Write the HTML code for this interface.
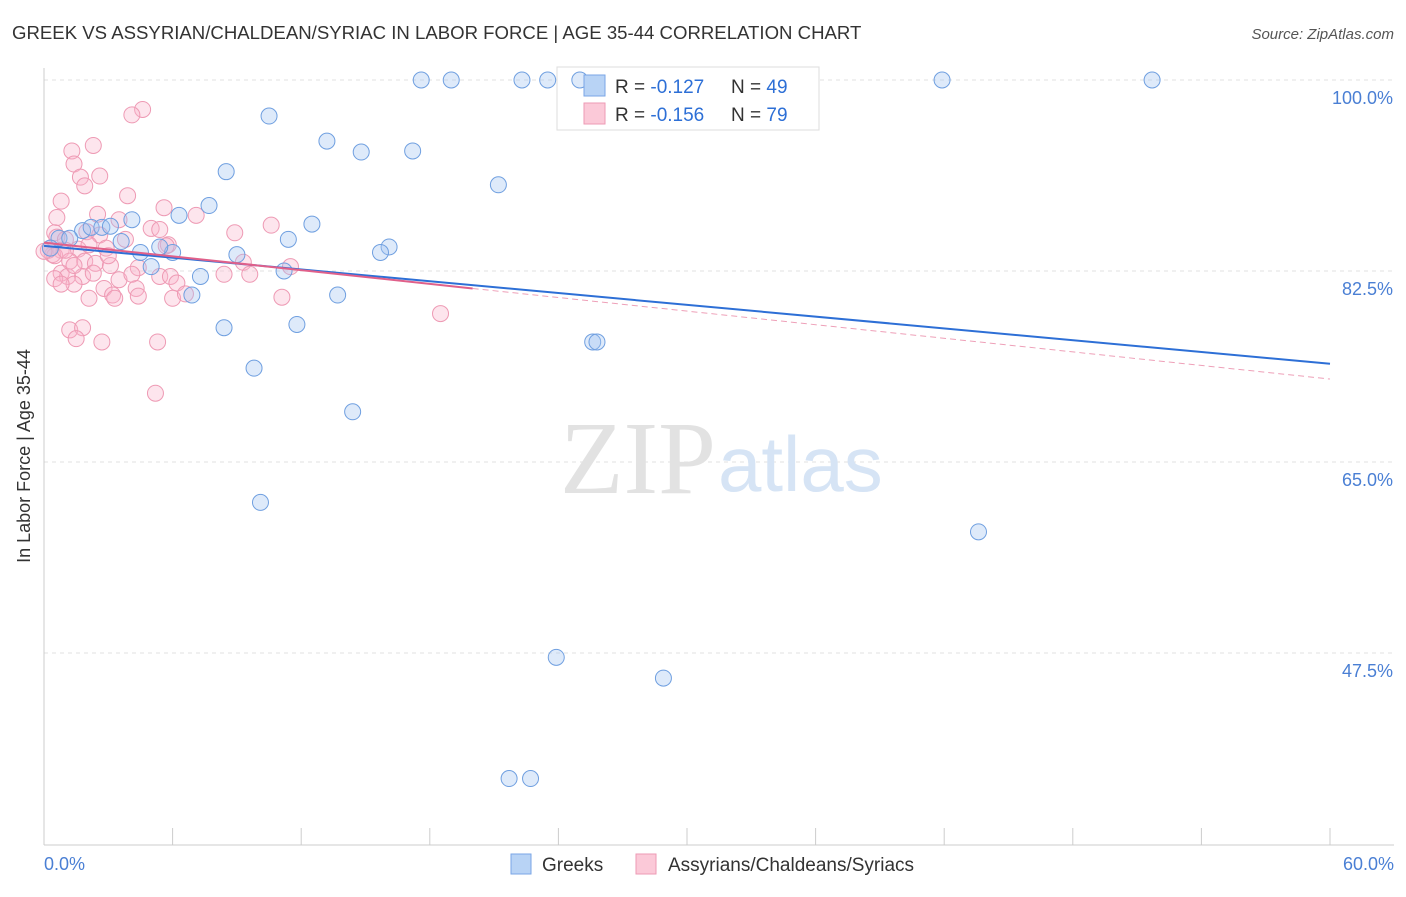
<!DOCTYPE html>
<html><head><meta charset="utf-8"><style>
body{margin:0;background:#fff;font-family:"Liberation Sans",sans-serif;}
svg text{font-family:"Liberation Sans",sans-serif;}
</style></head><body>
<svg id="chart" width="1406" height="892">
<text x="12" y="39" font-size="18.6" fill="#333">GREEK VS ASSYRIAN/CHALDEAN/SYRIAC IN LABOR FORCE | AGE 35-44 CORRELATION CHART</text>
<text x="1394" y="39" font-size="15" fill="#555" font-style="italic" text-anchor="end">Source: ZipAtlas.com</text>
<g id="grid"></g>
<line x1="44" y1="68" x2="44" y2="845" stroke="#ccc"/>
<line x1="44" y1="845" x2="1394" y2="845" stroke="#ccc"/>
<g id="xt"></g>
<text x="716" y="493" font-size="104" fill="#e2e2e2" style="font-family:'Liberation Serif',serif" text-anchor="end">ZIP</text>
<text x="718" y="491" font-size="78" fill="#d6e4f5">atlas</text>
<text x="30" y="456" font-size="18" fill="#333" text-anchor="middle" transform="rotate(-90 30 456)">In Labor Force | Age 35-44</text>
<text x="44" y="870" font-size="18" fill="#4a7fd4">0.0%</text>
<text x="1394" y="870" font-size="18" fill="#4a7fd4" text-anchor="end">60.0%</text>
<g id="pts"></g>
<g id="lines"></g>
<rect x="557" y="67" width="262" height="63" fill="#fff" stroke="#ddd"/>
<g id="pts2"></g>
<rect x="584" y="75" width="21" height="21" fill="#b8d3f5" stroke="#7aa6e6"/>
<rect x="584" y="103" width="21" height="21" fill="#fbc9d8" stroke="#ee9ab4"/>
<text x="615" y="93" font-size="19" fill="#333">R = <tspan fill="#2d6fd6">-0.127</tspan></text>
<text x="731" y="93" font-size="19" fill="#333">N = <tspan fill="#2d6fd6">49</tspan></text>
<text x="615" y="121" font-size="19" fill="#333">R = <tspan fill="#2d6fd6">-0.156</tspan></text>
<text x="731" y="121" font-size="19" fill="#333">N = <tspan fill="#2d6fd6">79</tspan></text>
<rect x="511" y="854" width="20" height="20" fill="#b8d3f5" stroke="#7aa6e6"/>
<text x="542" y="871" font-size="19" fill="#333">Greeks</text>
<rect x="636" y="854" width="20" height="20" fill="#fbc9d8" stroke="#ee9ab4"/>
<text x="668" y="871" font-size="19" fill="#333">Assyrians/Chaldeans/Syriacs</text>
</svg>
<script>
const yTicks=[100,82.5,65,47.5];
const yTickLabels=["100.0%","82.5%","65.0%","47.5%"];
const greekX=[17.6,19.0,22.3,23.5,25.0,41.9,51.7,10.5,13.2,14.8,17.2,8.5,21.2,7.7,6.3,4.1,12.5,1.8,2.2,2.7,3.1,11.4,3.6,16.1,15.7,9.0,6.0,5.4,4.5,5.0,11.2,7.3,6.9,13.7,11.8,8.4,25.6,25.8,9.8,14.4,10.1,43.6,23.9,28.9,21.7,22.7,0.7,0.3,1.2];
const greekY=[100,100,100,100,100,100,100,96.7,94.4,93.4,93.5,91.6,90.4,88.5,87.6,87.2,86.8,86.2,86.5,86.5,86.6,85.4,85.2,84.7,84.2,84.0,84.2,84.7,84.2,82.9,82.5,82.0,80.3,80.3,77.6,77.3,76.0,76.0,73.6,69.6,61.3,58.6,47.1,45.2,36.0,36.0,85.5,84.6,85.5];
const assyX=[4.6,4.1,2.3,1.3,1.4,1.7,2.6,1.9,3.9,0.8,5.6,7.1,0.6,2.5,3.5,10.6,8.9,5.0,5.4,0.5,0.6,1.0,2.0,2.6,3.8,5.8,5.7,2.9,1.6,0.8,0.3,0.4,9.3,11.5,1.2,1.9,2.4,3.1,4.4,0.8,1.1,1.8,2.3,9.6,5.4,5.9,3.5,6.2,1.4,2.8,4.3,3.2,3.3,4.4,2.1,6.0,6.6,11.1,18.5,1.2,1.8,1.5,2.7,5.3,5.2,0.2,0.5,1.0,2.1,0.0,1.4,3.0,4.1,8.4,0.5,0.8];
const assyY=[97.3,96.8,94.0,93.5,92.3,91.1,91.2,90.3,89.4,88.9,88.3,87.6,87.4,87.7,87.2,86.7,86.0,86.4,86.3,86.0,85.6,85.4,86.1,85.8,85.4,84.9,84.8,84.6,84.5,84.4,84.6,84.0,83.3,82.9,83.4,83.4,83.2,83.0,82.8,82.3,82.0,82.0,82.3,82.2,82.0,82.0,81.7,81.4,81.3,80.9,80.9,80.3,80.0,80.2,80.0,80.0,80.4,80.1,78.6,77.1,77.3,76.3,76.0,76.0,71.3,84.4,83.9,84.4,84.9,84.3,83.0,83.9,82.2,82.2,81.8,81.3];
const greekLine=[[0,84.8],[60,74.0]];
const assyLine=[[0,85.1],[20,80.9],[60,72.6]];
const X=v=>44+v*(1330-44)/60;
const Y=v=>80+(100-v)*(271-80)/17.5;
const NS="http://www.w3.org/2000/svg";
function mk(t,a,p){const e=document.createElementNS(NS,t);for(const k in a)e.setAttribute(k,a[k]);p.appendChild(e);return e;}
const grid=document.getElementById('grid');
yTicks.forEach((t,i)=>{
 const l=mk('line',{x1:44,x2:1394,y1:Y(t),y2:Y(t),stroke:'#e2e2e2','stroke-dasharray':'4 4'},grid);
 
 
 const tx=mk('text',{x:1393,y:Y(t)+24,'font-size':18,fill:'#4a7fd4','text-anchor':'end'},grid);
 tx.textContent=yTickLabels[i];
 
 
});
const xt=document.getElementById('xt');
for(let i=0;i<=10;i++){const x=44+i*128.6;const l=mk('line',{x1:x,x2:x,y1:828,y2:845,stroke:'#ccc'},xt);
 
 }
const pts=document.getElementById('pts');
const pts2=document.getElementById('pts2');
assyX.forEach((v,i)=>{const c=mk('circle',{cx:X(v),cy:Y(assyY[i]),r:8,fill:'rgba(248,180,202,0.35)',stroke:'#ee9ab4','stroke-width':1},pts);
 
 });
greekX.forEach((v,i)=>{const cx=X(v),cy=Y(greekY[i]);
 const inLegend=cx>557&&cx<819&&cy>67&&cy<130;
 const c=mk('circle',{cx:cx,cy:cy,r:8,fill:'rgba(160,195,240,0.35)',stroke:'#6f9fe0','stroke-width':1},inLegend?pts2:pts);
 
 });
const lines=document.getElementById('lines');
const gl=mk('line',{x1:X(greekLine[0][0]),y1:Y(greekLine[0][1]),x2:X(greekLine[1][0]),y2:Y(greekLine[1][1]),stroke:'#2d6fd6','stroke-width':2},lines);


const al=mk('line',{x1:X(assyLine[0][0]),y1:Y(assyLine[0][1]),x2:X(assyLine[1][0]),y2:Y(assyLine[1][1]),stroke:'#e0608a','stroke-width':2},lines);


const ad=mk('line',{x1:X(assyLine[1][0]),y1:Y(assyLine[1][1]),x2:X(assyLine[2][0]),y2:Y(assyLine[2][1]),stroke:'#eea0b8','stroke-width':1,'stroke-dasharray':'6 4'},lines);


</script>
</body></html>
